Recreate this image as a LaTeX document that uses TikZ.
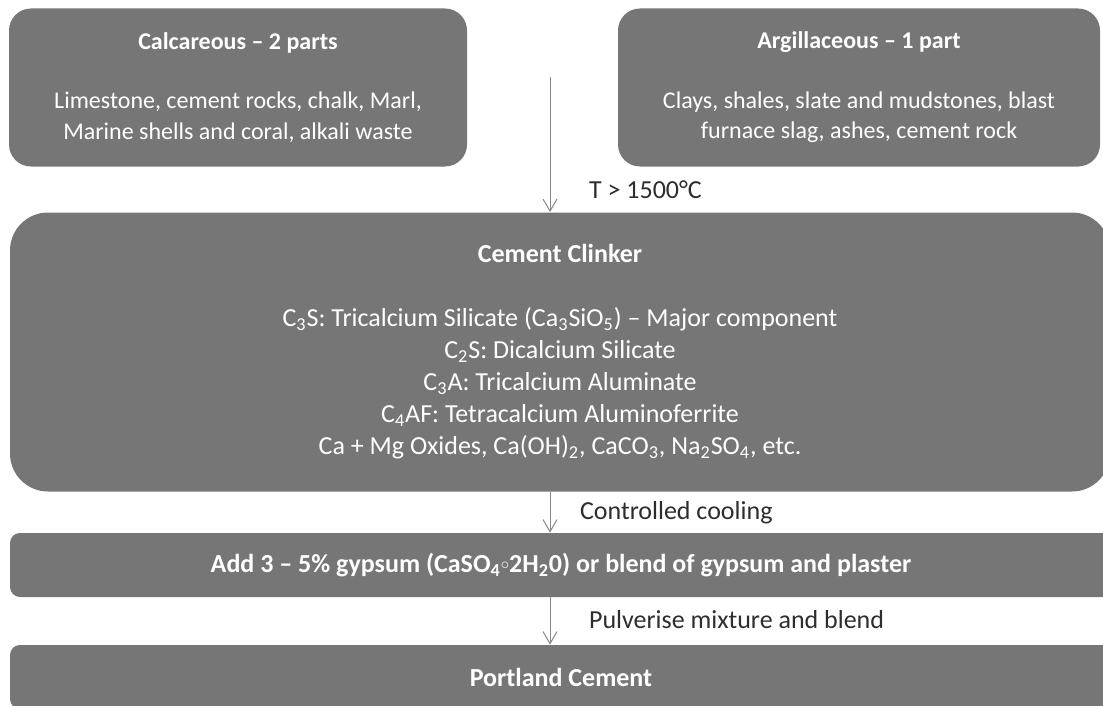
\documentclass[tikz,border=0pt]{standalone}
\usepackage{fontspec}
\setmainfont{Carlito}
\usetikzlibrary{arrows.meta, positioning}
\definecolor{boxgray}{RGB}{118,118,118}
\definecolor{linegray}{RGB}{135,135,135}
\definecolor{labelgray}{RGB}{45,45,45}

\begin{document}
\begin{tikzpicture}[x=0.5pt, y=-0.5pt,
    box/.style={rectangle, fill=boxgray, text=white, align=center, inner sep=0pt,
      font=\fontsize{12}{15.3}\selectfont},
    flow/.style={draw=linegray, line width=0.5pt, -{Straight Barb[length=6pt, width=7pt]}},
    lbl/.style={anchor=west, text=labelgray, font=\fontsize{13}{15}\selectfont}]
    \useasboundingbox (0,0) rectangle (1103,706);
    \clip (0,0) rectangle (1103,706);

    % raw materials
    \node (calc) [box, rounded corners=11pt, minimum width=229pt, minimum height=79pt] at (238,87.5)
      {{\bfseries\fontsize{12}{14}\selectfont Calcareous -- 2 parts}\\[14.5pt]
       Limestone, cement rocks, chalk, Marl,\\
       Marine shells and coral, alkali waste};
    \node (argil) [box, rounded corners=11pt, minimum width=241pt, minimum height=79pt] at (859,87.5)
      {{\bfseries\fontsize{12}{14}\selectfont Argillaceous -- 1 part}\\[14.5pt]
       Clays, shales, slate and mudstones, blast\\
       furnace slag, ashes, cement rock};

    % clinker
    \node (clinker) [box, rounded corners=19pt, minimum width=550pt, minimum height=139.5pt,
      font=\fontsize{13}{16}\selectfont] at (560,352)
      {{\bfseries\fontsize{13}{15}\selectfont Cement Clinker}\\[16pt]
       C\textsubscript{3}S: Tricalcium Silicate (Ca\textsubscript{3}SiO\textsubscript{5}) -- Major component\\
       C\textsubscript{2}S: Dicalcium Silicate\\
       C\textsubscript{3}A: Tricalcium Aluminate\\
       C\textsubscript{4}AF: Tetracalcium Aluminoferrite\\
       Ca + Mg Oxides, Ca(OH)\textsubscript{2}, CaCO\textsubscript{3}, Na\textsubscript{2}SO\textsubscript{4}, etc.};

    % finishing
    \node (gypsum) [box, rounded corners=5pt, minimum width=551pt, minimum height=32pt,
      font=\bfseries\fontsize{13}{15}\selectfont] at (561,565)
      {Add 3 -- 5\% gypsum (CaSO\textsubscript{4}\raisebox{0.2ex}{\scalebox{0.7}{$\circ$}}2H\textsubscript{2}0) or blend of gypsum and plaster};
    \node (portland) [box, rounded corners=5pt, minimum width=551pt, minimum height=32pt,
      font=\bfseries\fontsize{13}{15}\selectfont] at (561,677)
      {Portland Cement};

    \coordinate (mix) at (550,77);
    \draw [flow] (mix) -- (mix |- clinker.north);
    \draw [flow] (mix |- clinker.south) -- (mix |- gypsum.north);
    \draw [flow] (mix |- gypsum.south) -- (mix |- portland.north);

    \node (heat) [lbl] at (582,190) {T > 1500°C};
    \node (cool) [lbl] at (573,513) {Controlled cooling};
    \node (grind) [lbl] at (582,620) {Pulverise mixture and blend};
\end{tikzpicture}
\end{document}
